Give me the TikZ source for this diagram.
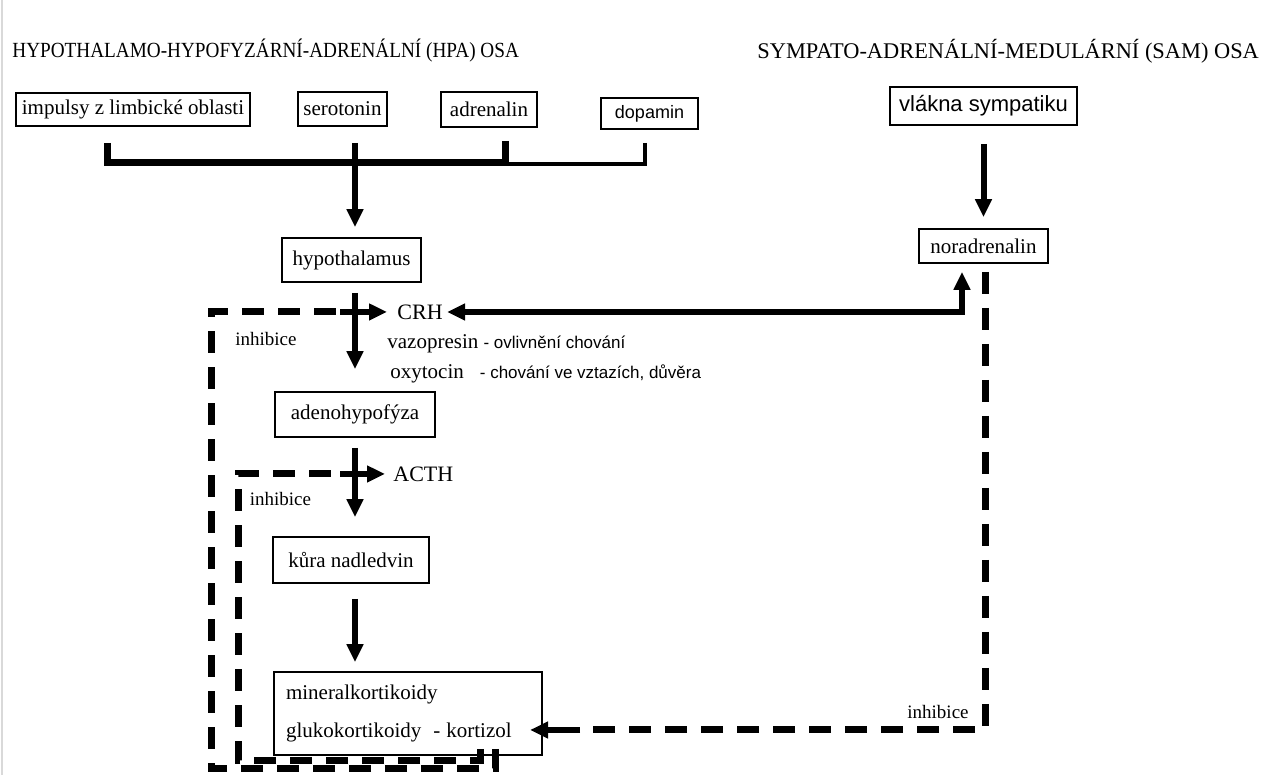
\documentclass[tikz,border=0pt]{standalone}
\usepackage{fontspec}
\setmainfont{Liberation Serif}
\newfontfamily\sansfont{Liberation Sans}
\usetikzlibrary{arrows.meta,calc}

\tikzset{
  organ/.style={draw, line width=0.8pt, inner sep=2pt, font=\fontsize{10.5}{12}\selectfont},
  pipe/.style={line width=3pt},
  inhib/.style={line width=3.5pt, dash pattern=on 11pt off 7pt},
  hormone/.style={inner sep=2pt, font=\fontsize{11}{13}\selectfont},
  note/.style={inner sep=2pt, font=\fontsize{10.5}{12}\selectfont},
  inhibtext/.style={inner sep=1pt, font=\fontsize{9.5}{11}\selectfont},
  remark/.style={font=\sansfont\fontsize{8.5}{10}\selectfont}
}

\begin{document}
\begin{tikzpicture}[x=0.5pt,y=0.5pt,>={Triangle[length=9pt,width=8pt]}]
\fill[white] (0,0) rectangle (1280,775);
\useasboundingbox (0,0) rectangle (1280,775);
\draw[gray!30, line width=1pt] (2,0) -- (2,775);

\node[anchor=west, inner sep=0pt, font=\fontsize{10.8}{13}\selectfont] (hpa) at (12,724) {\scalebox{0.89}[1]{HYPOTHALAMO-HYPOFYZÁRNÍ-ADRENÁLNÍ (HPA) OSA}};
\node[anchor=west, inner sep=0pt, font=\fontsize{11.2}{13}\selectfont] (sam) at (757,724) {SYMPATO-ADRENÁLNÍ-MEDULÁRNÍ (SAM) OSA};

\node[organ, minimum width=117pt, minimum height=16.5pt] (impulsy) at (133,665.5) {impulsy z limbické oblasti};
\node[organ, minimum width=44.5pt, minimum height=17pt] (serotonin) at (342.5,666) {serotonin};
\node[organ, minimum width=48pt, minimum height=17.5pt] (adrenalin) at (489,665.5) {adrenalin};
\node[organ, minimum width=48.5pt, minimum height=15.5pt, font=\sansfont\fontsize{9}{11}\selectfont] (dopamin) at (649.5,661.5) {dopamin};
\node[organ, minimum width=93.5pt, minimum height=19pt, font=\sansfont\fontsize{11}{13}\selectfont] (vlakna) at (983.5,669) {vlákna sympatiku};
\node[organ, minimum width=64.5pt, minimum height=17pt] (noradrenalin) at (983.5,529) {noradrenalin};
\node[organ, minimum width=69.5pt, minimum height=22pt] (hypothalamus) at (351.5,515) {hypothalamus};
\node[organ, minimum width=80pt, minimum height=22.5pt] (adenohypofyza) at (355,360.5) {adenohypofýza};
\node[organ, minimum width=78pt, minimum height=23pt] (kura) at (351,215) {kůra nadledvin};
\node[organ, text width=122pt, inner xsep=6pt, minimum height=41.5pt, align=left] (kortikoidy) at (408,61.5) {mineralkortikoidy\\[7pt]glukokortikoidy\hspace{6pt}-\hspace{3pt}kortizol};

\node[hormone, anchor=west] (crh) at (393,463) {CRH};
\node[hormone, anchor=west] (acth) at (389,301) {ACTH};
\node[note, anchor=west] (vazopresin) at (383,431) {vazopresin {\sansfont\fontsize{8.5}{10}\selectfont - ovlivnění chování}};
\node[note, anchor=west] (oxytocin) at (386,401) {oxytocin\hspace{8pt}{\sansfont\fontsize{8.5}{10}\selectfont - chování ve vztazích, důvěra}};
\node[inhibtext] (inhibiceA) at (266,436) {inhibice};
\node[inhibtext] (inhibiceB) at (280.5,276) {inhibice};
\node[inhibtext] (inhibiceC) at (938,63) {inhibice};

\coordinate (bar) at (355,612);
\coordinate (outerturn) at (211,463);
\coordinate (innerturn) at (238,301);
\coordinate (crhin) at (340,463);
\coordinate (acthin) at (340,301);
\coordinate (cortin) at (580,45);
\coordinate (kortizol) at (530,45);

% vstupy do hypothalamu
\draw[pipe, line width=3.5pt] ($(impulsy.south)+(-26,-16)$) |- (bar);
\draw[pipe, line width=3.5pt] ($(adrenalin.south)+(16,-13)$) |- (bar);
\draw[line width=2pt] ($(dopamin.south)+(-4.5,-13)$) |- ($(bar)+(150,-1)$);
\draw[pipe, ->] ($(serotonin.south)+(12.5,-16)$) -- ($(hypothalamus.north)+(3.5,10)$);

\draw[pipe, ->] ($(hypothalamus.south)+(3.5,-10)$) -- ($(adenohypofyza.north)+(0,22)$);
\draw[pipe, ->] ($(adenohypofyza.south)+(0,-10)$) -- ($(kura.north)+(4,19)$);
\draw[pipe, ->] ($(kura.south)+(4,-15)$) -- ($(kortikoidy.north)+(-53,9)$);
\draw[pipe, ->] ($(vlakna.south)+(0,-18)$) -- ($(noradrenalin.north)+(0,11)$);
\draw[pipe, <->] (crh.east) -| ($(noradrenalin.south)+(-21.5,-8)$);

% zpetne vazby
\draw[inhib] ($(kortikoidy.south)+(87,7)$) -- ++(0,-20) -| (outerturn) -- (crhin);
\draw[pipe, ->, shorten >=3pt] (crhin) -- (crh.west);
\draw[inhib] ($(kortikoidy.south)+(72,7)$) -- ++(0,-12) -| (innerturn) -- (acthin);
\draw[pipe, ->, shorten >=2pt] (acthin) -- (acth.west);
\draw[inhib] ($(noradrenalin.south)+(1.5,-8)$) |- (cortin);
\draw[pipe, ->] (cortin) -- (kortizol);
\end{tikzpicture}
\end{document}
